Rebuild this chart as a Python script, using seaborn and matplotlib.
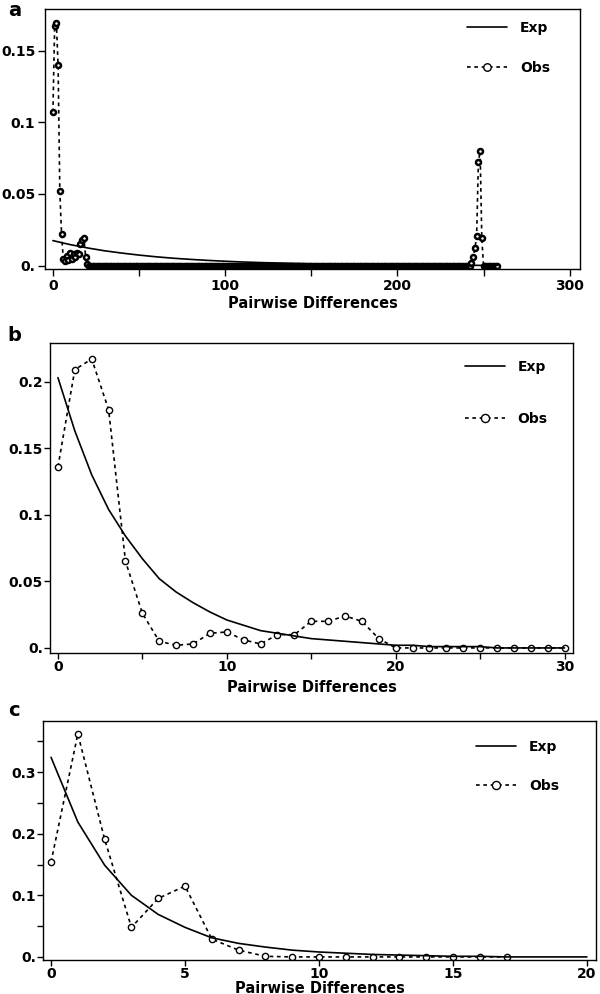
import numpy as np
import pandas as pd
import matplotlib
matplotlib.use('Agg')
import matplotlib.pyplot as plt
from matplotlib.ticker import FixedLocator, FuncFormatter
import seaborn as sns

# ---- panel a : observed values, x = 0..20, then the second peak at 243..250
obs_a_head = [0.107, 0.167, 0.169, 0.140, 0.052, 0.022, 0.005, 0.003, 0.007, 0.004,
              0.009, 0.005, 0.008, 0.006, 0.009, 0.008, 0.015, 0.018, 0.019, 0.006, 0.001]
obs_a_peak = [0.002, 0.006, 0.012, 0.021, 0.072, 0.080, 0.019, 0.0]
obs_a_peak_start = 243
obs_a_last = 258
exp_a_x = [0, 10, 20, 30, 40, 50, 60, 70, 80, 90, 100, 110, 120, 130, 140, 150,
           160, 170, 180, 190, 200, 210, 220, 230, 240, 250, 258]
exp_a_y = [0.0175, 0.0147, 0.0124, 0.0104, 0.0088, 0.0074, 0.0062, 0.0052, 0.0044,
           0.0037, 0.0031, 0.0026, 0.0022, 0.0019, 0.0016, 0.0013, 0.0011, 0.0009,
           0.0008, 0.0007, 0.0006, 0.0005, 0.0004, 0.0003, 0.0003, 0.0002, 0.0002]

# ---- panel b : x = 0..30
obs_b = [0.136, 0.209, 0.217, 0.179, 0.065, 0.026, 0.005, 0.002, 0.003, 0.011,
         0.012, 0.006, 0.003, 0.010, 0.010, 0.020, 0.020, 0.024, 0.020, 0.007,
         0.0, 0.0, 0.0, 0.0, 0.0, 0.0, 0.0, 0.0, 0.0, 0.0, 0.0]
exp_b = [0.203, 0.163, 0.130, 0.104, 0.084, 0.067, 0.052, 0.042, 0.034, 0.027,
         0.021, 0.017, 0.013, 0.011, 0.009, 0.007, 0.006, 0.005, 0.004, 0.003,
         0.002, 0.002, 0.001, 0.001, 0.001, 0.001, 0.0, 0.0, 0.0, 0.0, 0.0]

# ---- panel c : obs x = 0..17, exp x = 0..20
obs_c = [0.154, 0.362, 0.191, 0.048, 0.095, 0.115, 0.029, 0.011, 0.001, 0.0,
         0.0, 0.0, 0.0, 0.0, 0.0, 0.0, 0.0, 0.0]
exp_c = [0.324, 0.219, 0.149, 0.100, 0.069, 0.048, 0.031, 0.022, 0.016, 0.011,
         0.008, 0.006, 0.004, 0.003, 0.002, 0.001, 0.001, 0.0, 0.0, 0.0, 0.0]

x_label = 'Pairwise Differences'

sns.set_style('white')
plt.rcParams['font.family'] = ['DejaVu Sans']
plt.rcParams['font.weight'] = 'bold'
for k in ['text.color', 'axes.labelcolor', 'xtick.color', 'ytick.color', 'axes.edgecolor']:
    plt.rcParams[k] = 'black'

W, H = 600, 994
fig = plt.figure(figsize=(W / 100, H / 100), dpi=100)


def box(l, t, r, b):
    return [l / W, (H - b) / H, (r - l) / W, (b - t) / H]


def yfmt(v, pos):
    return '0.' if abs(v) < 1e-9 else f'{v:g}'


def panel(rect, letter, x_obs, y_obs, x_exp, y_exp, xlim, ylim, xticks, xminor,
          yticks, yminor, ms, mew, mscale, leg_anchor, leg_space, letter_xy,
          tick_len, tick_pad, lab_pad):
    ax = fig.add_axes(box(*rect))
    exp_df = pd.DataFrame({'x': x_exp, 'y': y_exp})
    obs_df = pd.DataFrame({'x': x_obs, 'y': y_obs})
    sns.lineplot(data=obs_df, x='x', y='y', ax=ax, color='black', lw=1.2,
                 ls=(0, (2.2, 2.2)), marker='o', ms=ms, mfc='white', mec='black',
                 mew=mew, estimator=None, sort=False, label='Obs', zorder=2)
    sns.lineplot(data=exp_df, x='x', y='y', ax=ax, color='black', lw=1.2,
                 estimator=None, sort=False, label='Exp', zorder=3)
    ax.set_xlim(*xlim)
    ax.set_ylim(*ylim)
    ax.xaxis.set_major_locator(FixedLocator(xticks))
    ax.xaxis.set_minor_locator(FixedLocator(xminor))
    ax.yaxis.set_major_locator(FixedLocator(yticks))
    ax.yaxis.set_minor_locator(FixedLocator(yminor))
    ax.yaxis.set_major_formatter(FuncFormatter(yfmt))
    ax.tick_params(which='both', direction='out', length=tick_len, width=1,
                   color='black', labelcolor='black', labelsize=10, pad=tick_pad,
                   bottom=True, left=True)
    for t in ax.get_xticklabels() + ax.get_yticklabels():
        t.set_fontweight('bold')
    for s in ax.spines.values():
        s.set_color('black')
        s.set_linewidth(1.0)
    ax.set_xlabel(x_label, fontsize=10.5, fontweight='bold', labelpad=lab_pad,
                  color='black')
    ax.set_ylabel('')
    h, lab = ax.get_legend_handles_labels()
    order = [lab.index('Exp'), lab.index('Obs')]
    leg = ax.legend([h[i] for i in order], [lab[i] for i in order],
                    loc='upper left', bbox_to_anchor=leg_anchor, frameon=False,
                    handlelength=2.9, handletextpad=0.9, labelspacing=leg_space,
                    borderpad=0, borderaxespad=0, numpoints=1, markerscale=mscale,
                    labelcolor='black', prop={'weight': 'bold', 'size': 10})
    for lh in leg.legend_handles:
        lh.set_markeredgewidth(1.0)
    fig.text(letter_xy[0] / W, 1 - letter_xy[1] / H, letter, fontsize=14,
             fontweight='bold', ha='left', va='top', color='black')
    return ax


# panel a
x_a = list(range(0, obs_a_last + 1))
y_a = (obs_a_head + [0.0] * (obs_a_peak_start - len(obs_a_head)) + obs_a_peak
       + [0.0] * (obs_a_last + 1 - obs_a_peak_start - len(obs_a_peak)))
panel((45, 9, 580, 269), 'a', x_a, y_a, exp_a_x, exp_a_y,
      (-4.6, 306), (-0.0023, 0.179), [0, 100, 200, 300], [50, 150, 250],
      [0, 0.05, 0.1, 0.15], [], 3.6, 1.8, 1.5, (0.789, 0.955), 1.9, (8, 1),
      5, 2, 2)

# panel b
panel((50, 343, 573, 653), 'b', list(range(len(obs_b))), obs_b,
      list(range(len(exp_b))), exp_b,
      (-0.47, 30.5), (-0.0038, 0.229), [0, 10, 20, 30], [5, 15, 25],
      [0, 0.05, 0.1, 0.15, 0.2], [], 4.5, 1.0, 1.3, (0.793, 0.945), 2.7, (7, 326),
      4, 1, 4)

# panel c
panel((43, 721, 596, 960), 'c', list(range(len(obs_c))), obs_c,
      list(range(len(exp_c))), exp_c,
      (-0.3, 20.34), (-0.005, 0.383), [0, 5, 10, 15, 20], [],
      [0, 0.1, 0.2, 0.3], [0.05, 0.15, 0.25, 0.35], 4.5, 1.0, 1.3, (0.783, 0.92),
      1.8, (8, 701), 4, 1, 0)

fig.savefig('out.png', dpi=100)
